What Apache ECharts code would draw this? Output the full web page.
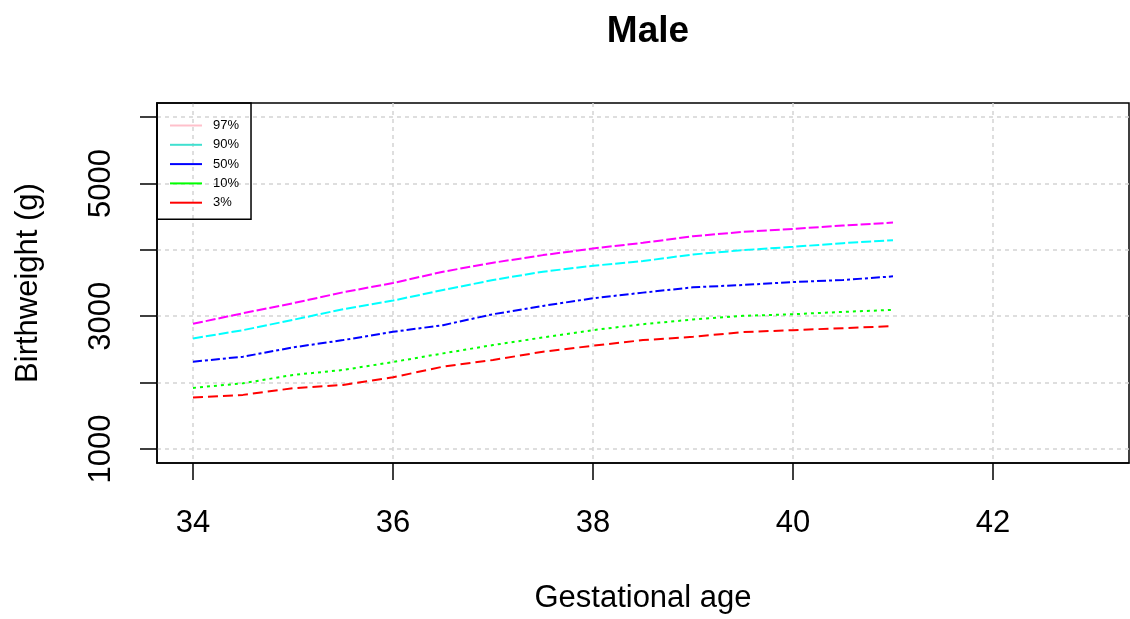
<!DOCTYPE html>
<html>
<head>
<meta charset="utf-8">
<script src="https://cdn.jsdelivr.net/npm/echarts@6/dist/echarts.min.js"></script>
<style>
html,body{margin:0;padding:0;background:#fff;}
#chart{width:1130px;height:619px;}
</style>
</head>
<body>
<div id="chart"></div>
<script>
const ages = [34, 34.5, 35, 35.5, 36, 36.5, 37, 37.5, 38, 38.5, 39, 39.5, 40, 40.5, 41];
const p97 = [2885, 3045, 3195, 3360, 3500, 3670, 3805, 3920, 4020, 4105, 4205, 4270, 4315, 4365, 4410];
const p90 = [2665, 2790, 2945, 3105, 3235, 3395, 3545, 3670, 3760, 3830, 3930, 3995, 4045, 4100, 4145];
const p50 = [2315, 2390, 2530, 2640, 2765, 2865, 3030, 3155, 3270, 3355, 3435, 3470, 3515, 3545, 3600];
const p10 = [1920, 1990, 2115, 2190, 2310, 2440, 2565, 2680, 2790, 2880, 2950, 3005, 3030, 3065, 3095];
const p3  = [1775, 1815, 1915, 1965, 2080, 2240, 2340, 2465, 2555, 2640, 2690, 2760, 2790, 2820, 2850];
const seriesNames = ['97%', '90%', '50%', '10%', '3%'];
const xTicks = [34, 36, 38, 40, 42];
const yTicks = [1000, 2000, 3000, 4000, 5000, 6000];
const yLabels = [1000, 3000, 5000];

const values = [p97, p90, p50, p10, p3];
const lineColors = ['#FF00FF', '#00FFFF', '#0000FF', '#00FF00', '#FF0000'];
const legendColors = ['#FFC0CB', '#40E0D0', '#0000FF', '#00FF00', '#FF0000'];
const dashes = [[10, 3], [10, 3], [9, 3, 3, 3], [3, 4], [10, 5]];
const FONT = '"Liberation Sans", Arial, sans-serif';

const chart = echarts.init(document.getElementById('chart'), null, {renderer: 'canvas'});
const series = seriesNames.map((name, i) => ({
  name: name,
  type: 'line',
  data: ages.map((a, j) => [a, values[i][j]]),
  showSymbol: false,
  symbol: 'none',
  silent: true,
  animation: false,
  itemStyle: {color: lineColors[i]},
  lineStyle: {color: lineColors[i], width: 2, type: dashes[i]}
}));

chart.setOption({
  backgroundColor: '#ffffff',
  animation: false,
  title: {
    text: 'Male',
    left: 643, top: 8, textAlign: 'center',
    textStyle: {fontFamily: FONT, fontSize: 37, fontWeight: 'bold', color: '#000'}
  },
  legend: {
    orient: 'vertical',
    left: 157, top: 103,
    padding: [16, 12, 10, 13],
    borderColor: '#000', borderWidth: 1.5,
    icon: 'rect',
    itemWidth: 32, itemHeight: 2,
    itemGap: 6.3,
    textStyle: {fontFamily: FONT, fontSize: 13, color: '#000', lineHeight: 13, padding: [0, 0, 0, 6]},
    data: seriesNames.map((n, i) => ({name: n, itemStyle: {color: legendColors[i]}, lineStyle: {color: legendColors[i]}}))
  },
  grid: {
    left: 157, right: 1, top: 103, bottom: 156,
    show: true, borderColor: '#000', borderWidth: 1.5, containLabel: false
  },
  xAxis: {
    type: 'value',
    min: 33.64, max: 43.36,
    name: 'Gestational age',
    nameLocation: 'middle',
    nameGap: 120,
    nameTextStyle: {fontFamily: FONT, fontSize: 31, color: '#000'},
    axisLine: {show: true, onZero: false, lineStyle: {color: '#000', width: 1.5}},
    axisTick: {show: true, length: 17, customValues: xTicks, lineStyle: {color: '#000', width: 1.5}},
    axisLabel: {customValues: xTicks, margin: 45, fontFamily: FONT, fontSize: 31, color: '#000'},
    splitLine: {show: true, lineStyle: {color: '#d3d3d3', width: 1.5, type: [4, 4]}}
  },
  yAxis: {
    type: 'value',
    min: 789, max: 6211,
    name: 'Birthweight (g)',
    nameLocation: 'middle',
    nameGap: 113,
    nameRotate: 90,
    nameTextStyle: {fontFamily: FONT, fontSize: 31, color: '#000'},
    axisLine: {show: true, onZero: false, lineStyle: {color: '#000', width: 1.5}},
    axisTick: {show: true, length: 17, customValues: yTicks, lineStyle: {color: '#000', width: 1.5}},
    axisLabel: {customValues: yLabels, rotate: 90, margin: 40, fontFamily: FONT, fontSize: 31, color: '#000',
      formatter: v => String(v)},
    splitLine: {show: true, lineStyle: {color: '#d3d3d3', width: 1.5, type: [4, 4]}}
  },
  series: series
});
</script>
</body>
</html>
